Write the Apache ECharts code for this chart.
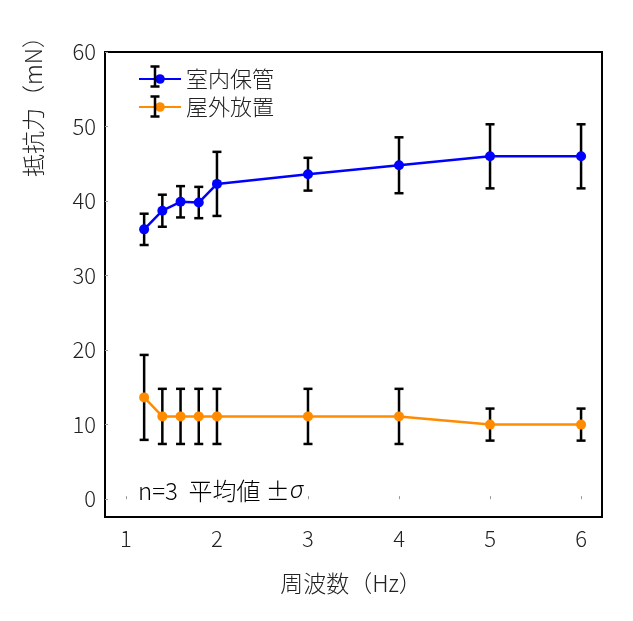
<!DOCTYPE html>
<html>
<head>
<meta charset="utf-8">
<script src="https://cdn.jsdelivr.net/npm/echarts@6/dist/echarts.min.js"></script>
<style>
html,body{margin:0;padding:0;background:#fff;}
#main{width:633px;height:621px;}
</style>
</head>
<body>
<div id="main"></div>
<script>
const seriesNames = ['室内保管', '屋外放置'];
const xValues = [1.2, 1.4, 1.6, 1.8, 2, 3, 4, 5, 6];
const indoorMean = [36.2, 38.7, 39.9, 39.8, 42.3, 43.6, 44.8, 46.0, 46.0];
const indoorSd = [2.1, 2.15, 2.1, 2.1, 4.3, 2.2, 3.75, 4.3, 4.3];
const outdoorMean = [13.65, 11.1, 11.1, 11.1, 11.1, 11.1, 11.1, 10.0, 10.0];
const outdoorSd = [5.7, 3.7, 3.7, 3.7, 3.7, 3.7, 3.7, 2.15, 2.15];
const xTicks = [1, 2, 3, 4, 5, 6];
const yTicks = [0, 10, 20, 30, 40, 50, 60];
const xTitle = '周波数（Hz）';
const yTitle = '抵抗力（mN）';
const noteText = 'n=3  平均値 ±';

const FONT = '"Noto Sans CJK JP", "Noto Sans", sans-serif';
const FW = 300;
const chart = echarts.init(document.getElementById('main'), null, {renderer: 'canvas'});

function pairs(xs, ys) { return xs.map((x, i) => [x, ys[i]]); }
function errData(xs, m, s) { return xs.map((x, i) => [x, m[i] - s[i], m[i] + s[i]]); }

function errRender(params, api) {
  const x = api.value(0);
  const lo = api.coord([x, api.value(1)]);
  const hi = api.coord([x, api.value(2)]);
  const cap = 4.5;
  const style = {stroke: '#000', lineWidth: 2.5};
  return {
    type: 'group',
    children: [
      {type: 'line', shape: {x1: lo[0], y1: lo[1], x2: hi[0], y2: hi[1]}, style: style},
      {type: 'line', shape: {x1: lo[0] - cap, y1: lo[1], x2: lo[0] + cap, y2: lo[1]}, style: style},
      {type: 'line', shape: {x1: hi[0] - cap, y1: hi[1], x2: hi[0] + cap, y2: hi[1]}, style: style}
    ]
  };
}

function legendErr(y) {
  const cx = 155, h = 10, cap = 4.5;
  const st = {stroke: '#000', lineWidth: 2.5};
  return [
    {type: 'line', z: 200, shape: {x1: cx, y1: y - h, x2: cx, y2: y + h}, style: st},
    {type: 'line', z: 200, shape: {x1: cx - cap, y1: y - h, x2: cx + cap, y2: y - h}, style: st},
    {type: 'line', z: 200, shape: {x1: cx - cap, y1: y + h, x2: cx + cap, y2: y + h}, style: st}
  ];
}

const option = {
  backgroundColor: '#fff',
  animation: false,
  textStyle: {fontFamily: FONT},
  grid: {left: 105, right: 31, top: 52, bottom: 104, show: true, borderColor: '#000', borderWidth: 2, containLabel: false},
  legend: {
    left: 133, top: 63, orient: 'vertical', itemWidth: 42, itemHeight: 12, itemGap: 6,
    data: seriesNames,
    textStyle: {fontSize: 22, color: '#222', fontFamily: FONT, fontWeight: FW}
  },
  xAxis: {
    type: 'value', min: 0.77, max: 6.23,
    axisLine: {show: false},
    splitLine: {show: false},
    axisTick: {show: true, inside: true, length: 3, lineStyle: {color: '#999', width: 1}, customValues: xTicks},
    axisLabel: {fontSize: 22, color: '#222', margin: 11, fontFamily: FONT, fontWeight: FW, customValues: xTicks}
  },
  yAxis: {
    type: 'value', min: -2.4, max: 60,
    axisLine: {show: false},
    splitLine: {show: false},
    axisTick: {show: true, inside: true, length: 3, lineStyle: {color: '#999', width: 1}, customValues: yTicks},
    axisLabel: {fontSize: 22, color: '#222', margin: 9, fontFamily: FONT, fontWeight: FW, customValues: yTicks}
  },
  graphic: [
    {type: 'text', x: 351, y: 583, style: {text: xTitle, fontSize: 23, fill: '#222', fontFamily: FONT, fontWeight: FW, align: 'center', verticalAlign: 'middle'}},
    {type: 'text', x: 33, y: 101, rotation: Math.PI / 2, style: {text: yTitle, fontSize: 23, fill: '#222', fontFamily: FONT, fontWeight: FW, align: 'center', verticalAlign: 'middle'}},
    {type: 'text', x: 138, y: 491, style: {
      text: '{a|' + noteText + '}{b|σ}',
      verticalAlign: 'middle',
      rich: {
        a: {fontSize: 24, color: '#222', fontFamily: FONT, fontWeight: FW},
        b: {fontSize: 24, color: '#222', fontStyle: 'italic', fontFamily: '"Noto Sans", sans-serif', fontWeight: FW}
      }
    }}
  ].concat(legendErr(76.5), legendErr(106.5)),
  series: [
    {
      name: seriesNames[0], type: 'line', data: pairs(xValues, indoorMean), z: 10,
      symbol: 'circle', symbolSize: 10, color: '#0000ff',
      lineStyle: {color: '#0000ff', width: 2.5}, itemStyle: {color: '#0000ff'}
    },
    {
      name: seriesNames[1], type: 'line', data: pairs(xValues, outdoorMean), z: 10,
      symbol: 'circle', symbolSize: 10, color: '#ff8c00',
      lineStyle: {color: '#ff8c00', width: 2.5}, itemStyle: {color: '#ff8c00'}
    },
    {type: 'custom', name: 'err1', renderItem: errRender, data: errData(xValues, indoorMean, indoorSd), z: 5, encode: {x: 0, y: [1, 2]}},
    {type: 'custom', name: 'err2', renderItem: errRender, data: errData(xValues, outdoorMean, outdoorSd), z: 5, encode: {x: 0, y: [1, 2]}}
  ]
};
chart.setOption(option);
</script>
</body>
</html>
